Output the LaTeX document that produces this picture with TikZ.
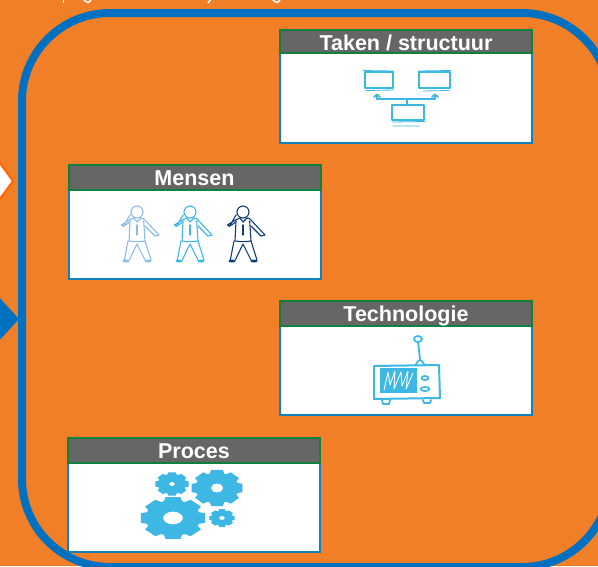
\documentclass[tikz,border=0pt]{standalone}
\usepackage{fontspec}
\setmainfont{Liberation Sans}
\usepackage{xcolor}
\definecolor{bgorange}{HTML}{F17F27}
\definecolor{framblue}{HTML}{0070C0}
\definecolor{headgray}{HTML}{666666}
\definecolor{headgreen}{HTML}{0F8040}
\definecolor{bodyblue}{HTML}{0F82BE}
\definecolor{iconblue}{HTML}{3DB7E4}
\definecolor{manlight}{HTML}{8DBDE6}
\definecolor{mandark}{HTML}{0F3C78}
\tikzset{
  cardhead/.style={draw=headgreen,fill=headgray,line width=2pt,minimum width=252pt,minimum height=25pt,
    inner sep=0pt,text=white,text height=17pt,text depth=0pt,font=\fontsize{21.5}{24}\selectfont\bfseries},
  cardbody/.style={draw=bodyblue,fill=white,line width=2pt,minimum width=252pt,minimum height=90pt,inner sep=0pt},
  sketch/.style={draw=iconblue,line width=1.8pt,line join=round,line cap=round},
  thinsketch/.style={draw=iconblue,line width=.8pt,line cap=round}
}
\newcommand{\gearicon}[5]{%
  \fill[iconblue,even odd rule,shift={(#1,#2)},x=#3pt,y=#4pt] (-13:1)
    \foreach \a in {0,45,...,315}{ -- (\a-13:1) -- (\a+13:1) -- (\a+19:.83) -- (\a+26:.83)} -- cycle
    (0,0) circle (#5);
}
\newcommand{\manicon}[2]{%
  \begin{scope}[shift={(#1,212)},draw=#2,line width=1.1pt,line join=round,line cap=round]
    \draw (0,0) circle (6pt);
    \draw (-6.7,7.5) -- (-15.7,13) to [out=-60,in=-130] (-6.7,2.7);
    \draw (-14,14.5) -- (-7,10);
    \draw (-3,6) -- (-6.7,7.5) (4,6) -- (6.7,6.7) -- (22,23) -- (18,24) -- (8,14);
    \draw (-7,9) -- (-8,29) to [bend right=8] (8,29) -- (6.7,9);
    \draw (-3,6) -- (0,10) -- (4,6);
    \draw[line width=1.4pt] (0,13) -- (0,23);
    \draw (-9,29) -- (-12.7,48) (0,32) -- (-7.7,48) (0,32) -- (8,48) (8,29) -- (14,48);
    \fill[#2] (-11,49) ellipse (3.5pt and 1.5pt) (11,49) ellipse (3.5pt and 1.5pt);
  \end{scope}
}
\begin{document}
\begin{tikzpicture}[x=1pt,y=-1pt]
    \useasboundingbox (0,0) rectangle (598,566);
    \clip (0,0) rectangle (598,566);
    \fill[bgorange] (0,0) rectangle (598,566);
    % cut off title line
    \draw[white,line width=1.5pt] (63.5,-2) -- (63.5,3);
    \draw[white,line width=1.5pt] (84,1) to [out=90,in=180] (88,2.5) to [out=0,in=90] (92,-1);
    \draw[white,line width=1.5pt] (208,3) -- (211,-1);
    \draw[white,line width=1.5pt] (273,1) to [out=90,in=180] (277,2.5) to [out=0,in=90] (281,-1);
    % frame and side arrows
    \draw[framblue,line width=8pt,rounded corners=88pt] (22,13) rectangle (610,567);
    \draw[draw=orange!80!red,fill=white,line width=2pt] (-3,159) -- (13,181) -- (-3,203) -- cycle;
    \fill[framblue] (-3,295) -- (19,319) -- (-3,343) -- cycle;
    % cards
    \node[cardbody] (takenbody) at (406,98) {};
    \node[cardhead,minimum height=23pt,text height=18pt] (takenhead) at (406,41.5) {Taken / structuur};
    \node[cardbody] (mensenbody) at (194.5,234) {};
    \node[cardhead] (mensenhead) at (194.5,177) {Mensen};
    \node[cardbody] (techbody) at (406,370) {};
    \node[cardhead,text height=15pt] (techhead) at (406,313.5) {Technologie};
    \node[cardbody] (procesbody) at (194,507) {};
    \node[cardhead,text height=16pt] (proceshead) at (194,450) {Proces};
    % taken icon
    \draw[sketch] (365,72) rectangle (393,88);
    \draw[thinsketch] (363,70.5) -- (394,71) (366,90.5) -- (394,90);
    \draw[sketch] (419,72) rectangle (450,88);
    \draw[thinsketch] (418,71) -- (451,70.5) (423,91) -- (449,90.5);
    \draw[sketch] (392,105) rectangle (424,120);
    \draw[thinsketch] (393,126) -- (420,126) (392,122) -- (425,121.5);
    \draw[sketch] (407,104) -- (407,99) (377,99) -- (435,99);
    \draw[sketch] (377,99) -- (377,95) (374,97) -- (377,94.5) -- (380,97);
    \draw[sketch] (435,99) -- (435,95) (432,97) -- (435,94.5) -- (438,97);
    % mensen icon
    \manicon{137}{manlight}
    \manicon{190}{iconblue}
    \manicon{243}{mandark}
    % technologie icon
    \draw[sketch,line width=2pt] (374,366) -- (439,365) -- (440,398) -- (374,399) -- cycle;
    \fill[iconblue] (380,368) rectangle (417,393);
    \draw[white,line width=.9pt,line join=round] (384,390) -- (388,372) -- (390,385) -- (395,371) -- (394,389)
      -- (401,372) -- (402,386) -- (408,371) -- (406,389) -- (413,373);
    \draw[sketch] (425,378) ellipse (3.5pt and 2pt);
    \draw[sketch] (425,389) ellipse (4.5pt and 2pt);
    \draw[sketch] (418,339) ellipse (4pt and 3pt);
    \draw[sketch] (418,342) -- (420,359);
    \draw[sketch] (415,365) to [out=-90,in=180] (420,360) to [out=0,in=-90] (425,365);
    \draw[sketch] (382,400) -- (383,404) -- (389,404) -- (390,400);
    \draw[sketch] (423,400) -- (424,403) -- (430,403) -- (431,400);
    % proces icon
    \gearicon{173}{518}{33}{21.5}{.3}
    \gearicon{217}{488}{26}{18.5}{.24}
    \gearicon{172}{484}{17}{12}{.17}
    \gearicon{222}{518}{13}{9}{.22}
\end{tikzpicture}
\end{document}
